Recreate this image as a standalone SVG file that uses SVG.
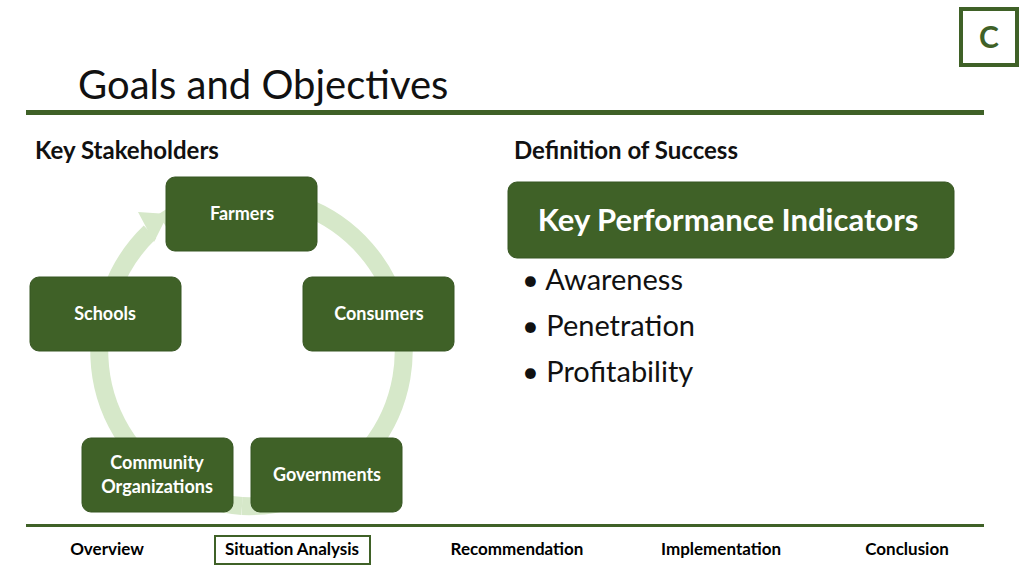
<svg xmlns="http://www.w3.org/2000/svg" width="1024" height="576" viewBox="0 0 1024 576">
<style>
text{font-family:Lato,"Open Sans","Liberation Sans",sans-serif}
.n rect{fill:#3f6127;stroke:#375622;stroke-width:1}
.n text{fill:#fff;font-size:18px;font-weight:bold;text-anchor:middle}
.nav{font-size:17px;font-weight:bold;fill:#000;text-anchor:middle}
.h{font-size:24px;font-weight:bold;fill:#111}
.b{font-size:29px;fill:#111}
</style>
<rect width="1024" height="576" fill="#fff"/>
<rect x="961" y="9" width="56" height="56" fill="none" stroke="#3f6127" stroke-width="4"/>
<text x="989" y="48" font-size="30" font-weight="bold" fill="#3f6127" text-anchor="middle">C</text>
<text x="78" y="99" font-size="40" fill="#111">Goals and Objectives</text>
<rect x="26" y="110" width="958" height="5" fill="#3f6127"/>
<text class="h" x="35" y="159">Key Stakeholders</text>
<text class="h" x="514" y="159">Definition of Success</text>
<g id="connectors">
<path d="M 163 222 A 155 155 0 1 1 242 506" fill="none" stroke="#d6e8c9" stroke-width="18" transform="rotate(0)"/>
<path d="M 242 506 A 155 155 0 0 1 112 290" fill="none" stroke="#d6e8c9" stroke-width="18"/>
<path d="M 112 290 A 155 155 0 0 1 150 232" fill="none" stroke="#d6e8c9" stroke-width="18"/>
<polygon points="138,212 168,214 154,242" fill="#d6e8c9"/>
</g>
<g id="farmers" class="n"><rect x="166" y="177" width="151" height="74" rx="9"/><text x="242" y="220">Farmers</text></g>
<g id="consumers" class="n"><rect x="303" y="277" width="151" height="74" rx="9"/><text x="379" y="320">Consumers</text></g>
<g id="governments" class="n"><rect x="251" y="438" width="151" height="74" rx="9"/><text x="327" y="481">Governments</text></g>
<g id="community" class="n"><rect x="82" y="438" width="151" height="74" rx="9"/><text x="157" y="469">Community</text><text x="157" y="493">Organizations</text></g>
<g id="schools" class="n"><rect x="30" y="277" width="151" height="74" rx="9"/><text x="105" y="320">Schools</text></g>
<g id="kpi" class="n"><rect x="508" y="182" width="446" height="76" rx="9"/><text x="728" y="231" style="font-size:31px">Key Performance Indicators</text></g>
<text class="b" x="522" y="290">• Awareness</text>
<text class="b" x="522" y="336">• Penetration</text>
<text class="b" x="522" y="382">• Profitability</text>
<rect x="26" y="524" width="958" height="3" fill="#3f6127"/>
<rect x="215" y="536" width="155" height="28" fill="none" stroke="#3f6127" stroke-width="2"/>
<text class="nav" x="107" y="555">Overview</text>
<text class="nav" x="292" y="555">Situation Analysis</text>
<text class="nav" x="517" y="555">Recommendation</text>
<text class="nav" x="721" y="555">Implementation</text>
<text class="nav" x="907" y="555">Conclusion</text>
</svg>
